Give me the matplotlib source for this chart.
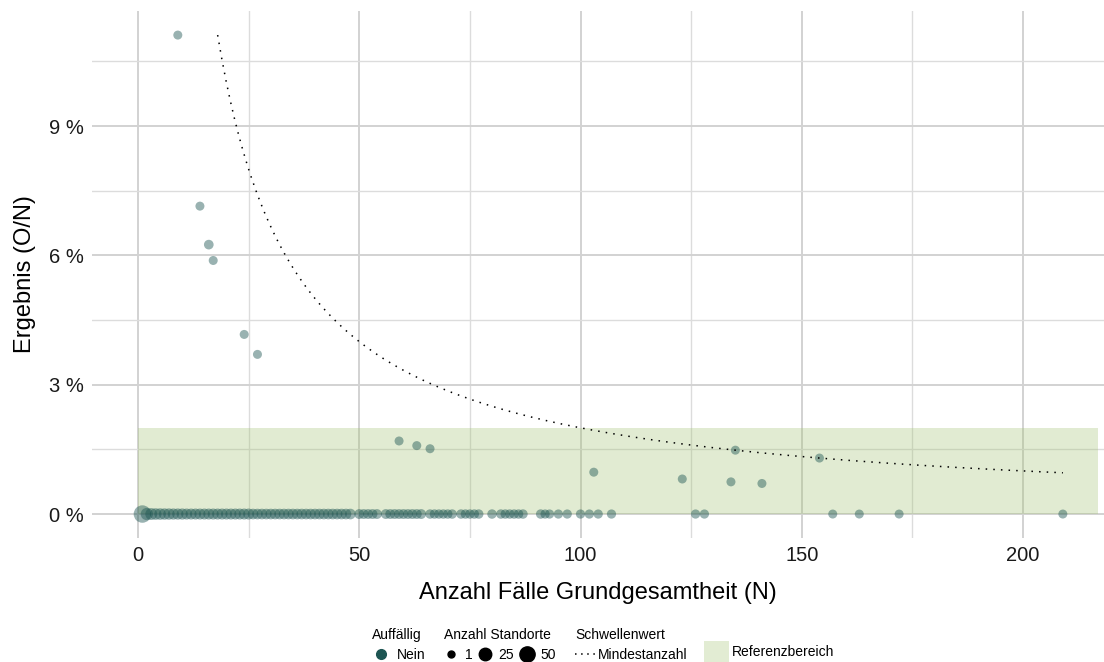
import numpy as np
import matplotlib.pyplot as plt
from matplotlib.lines import Line2D
from matplotlib.patches import Patch

plt.rcParams['font.family'] = ['Liberation Sans', 'DejaVu Sans']

# Standorte mit Ereignissen (N, O, Anzahl Standorte)
hit_n = [9, 14, 16, 17, 24, 27, 59, 63, 66, 103, 123, 134, 135, 141, 154]
hit_o = [1, 1, 1, 1, 1, 1, 1, 1, 1, 1, 1, 1, 2, 1, 2]
hit_count = [1, 1, 4, 1, 1, 1, 1, 1, 1, 1, 1, 1, 1, 1, 1]

# Standorte ohne Ereignis (Ergebnis 0 %)
zero_n = list(range(1, 49)) + [50, 51, 52, 53, 54, 56, 57, 58, 59, 60, 61, 62, 63, 64,
                               66, 67, 68, 69, 70, 71, 73, 74, 75, 76, 77, 80, 82, 83,
                               84, 85, 86, 87, 91, 92, 93, 95, 97, 100, 102, 104, 107,
                               126, 128, 157, 163, 172, 209]
zero_count = ([55, 18, 16, 14, 14, 13, 13, 12, 12, 12] + [11] * 15 + [9] * 23
              + [5] * 14 + [3] * 19 + [2] * 10 + [1] * (len(zero_n) - 91))

threshold_o = 2          # Mindestanzahl: O/N = 2/N
threshold_n = (18, 209)
ref_low, ref_high = 0.0, 2.0   # Referenzbereich in %

teal = '#1d5552'


def size_of(c):
    d_px = 9.0 * np.sqrt(1 + 2.5 * (np.asarray(c) - 1) / 49.0)
    return (d_px * 0.72) ** 2


fig = plt.figure(figsize=(11.04, 6.62), dpi=100)
ax = fig.add_axes([0.0833, 0.1873, 0.9167, 0.7961])

ax.set_xlim(-10.4, 218.3)
ax.set_ylim(-0.556, 11.67)

# grid
ax.set_xticks([0, 50, 100, 150, 200])
ax.set_xticks([25, 75, 125, 175], minor=True)
ax.set_yticks([0, 3, 6, 9])
ax.set_yticks([1.5, 4.5, 7.5, 10.5], minor=True)
ax.grid(True, which='major', color='#d2d2d2', lw=1.4, zorder=0)
ax.grid(True, which='minor', color='#dcdcdc', lw=1.0, zorder=0)
ax.set_axisbelow(True)
for s in ax.spines.values():
    s.set_visible(False)
ax.tick_params(which='both', length=0, labelsize=14.5, colors='#1a1a1a', pad=6)
ax.set_yticklabels([f'{v} %' for v in [0, 3, 6, 9]])

# Referenzbereich
ax.fill_between([0, 217], ref_low, ref_high, color='#9ec06c', alpha=0.3, lw=0, zorder=1)

# points
zero_n_arr = np.array(zero_n)
ax.scatter(zero_n_arr, np.zeros(len(zero_n)), s=size_of(zero_count), color=teal,
           alpha=0.45, lw=0, zorder=3)
hit_rate = np.array(hit_o) / np.array(hit_n) * 100
ax.scatter(hit_n, hit_rate, s=size_of(hit_count), color=teal, alpha=0.45, lw=0, zorder=3)

# Schwellenwert
n_line = np.linspace(threshold_n[0], threshold_n[1], 400)
ax.plot(n_line, threshold_o / n_line * 100, color='black', lw=1.1,
        linestyle=(0, (1, 4)), zorder=4)

ax.set_xlabel('Anzahl Fälle Grundgesamtheit (N)', fontsize=17, labelpad=12)
ax.set_ylabel('Ergebnis (O/N)', fontsize=17, labelpad=9)

# legends
leg_kw = dict(frameon=False, loc='lower left', fontsize=10, title_fontsize=10,
              alignment='left', borderpad=0, borderaxespad=0, labelspacing=0.2)
h1 = [Line2D([], [], ls='', marker='o', color=teal, markersize=7)]
l1 = fig.legend(h1, ['Nein'], title='Auffällig', bbox_to_anchor=(0.337, 0.0),
                handlelength=1.3, handletextpad=0.5, **leg_kw)
h2 = [Line2D([], [], ls='', marker='o', color='black', markersize=ms) for ms in (5, 9, 11)]
l2 = fig.legend(h2, ['1', '25', '50'], title='Anzahl Standorte', ncol=3,
                bbox_to_anchor=(0.402, 0.0), handlelength=1.0, handletextpad=0.5,
                columnspacing=0.4, **leg_kw)
h3 = [Line2D([], [], color='black', lw=1.1, linestyle=(0, (1, 3)))]
l3 = fig.legend(h3, ['Mindestanzahl'], title='Schwellenwert',
                bbox_to_anchor=(0.521, 0.0), handlelength=1.5, handletextpad=0.15,
                **leg_kw)
h4 = [Patch(facecolor='#e2ecd3', edgecolor='none')]
l4 = fig.legend(h4, ['Referenzbereich'], title=' ', bbox_to_anchor=(0.638, 0.0),
                handlelength=1.8, handleheight=1.9, handletextpad=0.15, **leg_kw)
for lg in (l1, l2, l3, l4):
    lg._legend_box.sep = 4

fig.savefig('out.png', dpi=100)
